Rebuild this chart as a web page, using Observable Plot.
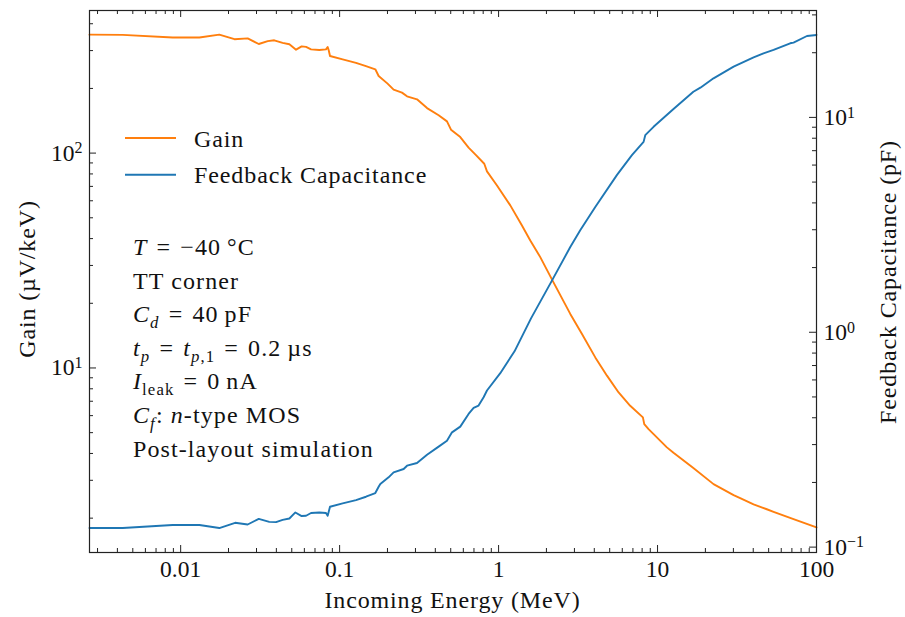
<!DOCTYPE html>
<html>
<head>
<meta charset="utf-8">
<script src="https://cdn.jsdelivr.net/npm/d3@7"></script>
<script src="https://cdn.jsdelivr.net/npm/@observablehq/plot@0.6"></script>
<style>
  html, body { margin: 0; padding: 0; background: #fff; }
</style>
</head>
<body>
<div id="chart"></div>
<script>
// ---------------- data ----------------
const gainE = [0.00267, 0.00432, 0.00891, 0.01312, 0.0175, 0.0218, 0.0264, 0.0310, 0.0353, 0.0388,
  0.0438, 0.0483, 0.0532, 0.0577, 0.0615, 0.0661, 0.0745, 0.0821, 0.0841, 0.0853,
  0.0870, 0.1045, 0.1268, 0.1465, 0.1677, 0.1760, 0.2003, 0.2186, 0.2468, 0.2655,
  0.3068, 0.3548, 0.4197, 0.4735, 0.5019, 0.5742, 0.6476, 0.7134, 0.8128, 0.8453,
  0.9771, 1.185, 1.403, 1.583, 1.829, 2.186, 2.825, 3.347, 4.058, 4.806,
  5.69, 6.73, 8.09, 8.25, 8.78, 11.45, 12.6, 16.8, 22.5, 30.1, 33.1, 40.2, 48.7, 53.7, 71.7, 100];
const gainV = [356, 355, 345, 345, 356, 339, 342, 322, 332, 335,
  326, 321, 303, 314, 312, 304, 302, 304, 312, 302,
  283, 273, 263, 254, 245.5, 228.5, 210.6, 197.4, 191.2, 183.8,
  178, 162, 150, 140.5, 128.5, 118.7, 106, 98.6, 89.2, 82.2,
  70.7, 57.1, 46.0, 39.2, 32.8, 25.5, 17.85, 14.4, 11.2, 9.21,
  7.69, 6.67, 5.89, 5.48, 5.19, 4.27, 4.03, 3.42, 2.88, 2.56, 2.48, 2.32, 2.20, 2.14, 1.98, 1.81];

const capE = [0.00267, 0.00432, 0.00891, 0.01312, 0.0175, 0.0220, 0.0264, 0.0310, 0.0361, 0.0398,
  0.0438, 0.0483, 0.0527, 0.0577, 0.0615, 0.0661, 0.0745, 0.0821, 0.0841, 0.0870,
  0.1045, 0.1268, 0.1465, 0.1677, 0.1760, 0.1803, 0.2033, 0.2186, 0.2528, 0.2655,
  0.3068, 0.3548, 0.4197, 0.4735, 0.5092, 0.5742, 0.6476, 0.6966, 0.7485, 0.8050,
  0.8453, 1.025, 1.26, 1.60, 2.17, 2.825, 3.263, 4.058, 5.56, 6.90,
  8.17, 8.37, 9.44, 12.6, 16.8, 18.6, 22.5, 30.1, 40.2, 46.4, 53.7, 68.3, 71.7, 87.1, 100];
const capV = [0.1227, 0.1227, 0.1267, 0.1267, 0.1227, 0.1298, 0.1274, 0.1354, 0.1311, 0.1307,
  0.1340, 0.1359, 0.1450, 0.1395, 0.1400, 0.1441, 0.1450, 0.1441, 0.1400, 0.1541,
  0.1597, 0.1656, 0.1716, 0.1785, 0.1910, 0.1967, 0.2112, 0.2227, 0.2310, 0.2393,
  0.2464, 0.2693, 0.2935, 0.3130, 0.3421, 0.3638, 0.4169, 0.4446, 0.4558, 0.4983,
  0.5355, 0.645, 0.815, 1.16, 1.744, 2.493, 2.984, 3.831, 5.40, 6.672,
  7.694, 8.268, 9.04, 10.95, 13.16, 13.75, 15.2, 17.22, 19.04, 19.88, 20.6, 22.13, 22.3, 23.93, 24.19];

const xDomain = [0.00267, 100];
const gainDomain = [1.384, 461];
const capDomain = [0.0944, 31.46];

const xTickValues = [0.01, 0.1, 1, 10, 100];
const xTickLabels = ["0.01", "0.1", "1", "10", "100"];
const gainTickValues = [10, 100];
const gainTickLabels = ["10^1", "10^2"];
const capTickValues = [0.1, 1, 10];
const capTickLabels = ["10^\u22121", "10^0", "10^1"];

const xLabel = "Incoming Energy (MeV)";
const gainLabel = "Gain (\u00b5V/keV)";
const capLabel = "Feedback Capacitance (pF)";

const seriesNames = ["Gain", "Feedback Capacitance"];
const seriesColors = ["#ff7f0e", "#1f77b4"];

// annotation lines: segments [text, style]  (i = italic, sub = subscript)
const EQ = "\u2004=\u2004";
const annotationLines = [
  [["T", "i"], [EQ + "\u221240\u2009\u00b0C", ""]],
  [["TT corner", ""]],
  [["C", "i"], ["d", "isub"], [EQ + "40\u2009pF", ""]],
  [["t", "i"], ["p", "isub"], [EQ, ""], ["t", "i"], ["p", "isub"], [",1", "sub"], [EQ + "0.2\u2009\u00b5s", ""]],
  [["I", "i"], ["leak", "sub"], [EQ + "0\u2009nA", ""]],
  [["C", "i"], ["f", "isub"], [": ", ""], ["n", "i"], ["-type MOS", ""]],
  [["Post-layout simulation", ""]]
];

// ---------------- layout ----------------
const W = 905, H = 617, mL = 89, mR = 89, mT = 10, mB = 65;
const fw = W - mL - mR, fh = H - mT - mB;
const FONT = "'Liberation Serif', 'DejaVu Serif', serif";
const FS = 24;
// map capacitance onto the gain (left) log scale
const K = gainDomain[0] / capDomain[0];

const gain = gainE.map((e, i) => ({E: e, V: gainV[i]}));
const cap = capE.map((e, i) => ({E: e, V: capV[i] * K}));

function minorTicks(lo, hi) {
  const out = [];
  for (let p = -4; p <= 3; p++) for (let m = 2; m <= 9; m++) {
    const v = +(m * Math.pow(10, p)).toPrecision(6);
    if (v > lo && v < hi) out.push(v);
  }
  return out;
}
const xMinor = minorTicks(xDomain[0], xDomain[1]);
const gainMinor = minorTicks(gainDomain[0], gainDomain[1]);
const capMinorK = minorTicks(capDomain[0], capDomain[1]).map(c => c * K);
const capMajorK = capTickValues.map(c => c * K);

const xLab = new Map(xTickValues.map((v, i) => [v, xTickLabels[i]]));
const gLab = new Map(gainTickValues.map((v, i) => [v, gainTickLabels[i]]));
const cLab = new Map(capMajorK.map((v, i) => [v, capTickLabels[i]]));

const tk = {stroke: "#222", strokeWidth: 1};
const majorLen = 7, minorLen = 4;

const plot = Plot.plot({
  width: W, height: H,
  marginLeft: mL, marginRight: mR, marginTop: mT, marginBottom: mB,
  x: {type: "log", domain: xDomain},
  y: {type: "log", domain: gainDomain},
  style: {fontFamily: FONT, fontSize: "23.5px", background: "#fff", color: "#111"},
  marks: [
    Plot.line(gain, {x: "E", y: "V", stroke: seriesColors[0], strokeWidth: 1.9}),
    Plot.line(cap, {x: "E", y: "V", stroke: seriesColors[1], strokeWidth: 1.9}),
    // inward ticks
    Plot.ruleX(xTickValues, {x: d => d, insetTop: fh - majorLen, ...tk}),
    Plot.ruleX(xTickValues, {x: d => d, insetBottom: fh - majorLen, ...tk}),
    Plot.ruleX(xMinor, {x: d => d, insetTop: fh - minorLen, ...tk}),
    Plot.ruleX(xMinor, {x: d => d, insetBottom: fh - minorLen, ...tk}),
    Plot.ruleY(gainTickValues, {y: d => d, insetRight: fw - majorLen, ...tk}),
    Plot.ruleY(gainMinor, {y: d => d, insetRight: fw - minorLen, ...tk}),
    Plot.ruleY(capMajorK, {y: d => d, insetLeft: fw - majorLen, ...tk}),
    Plot.ruleY(capMinorK, {y: d => d, insetLeft: fw - minorLen, ...tk}),
    Plot.frame({stroke: "#222", strokeWidth: 1.2}),
    Plot.axisX(xTickValues, {anchor: "bottom", tickSize: 0, tickPadding: 8, tickFormat: d => xLab.get(d), label: null}),
    Plot.axisY(gainTickValues, {anchor: "left", tickSize: 0, tickPadding: 7, tickFormat: d => gLab.get(d), label: null}),
    Plot.axisY(capMajorK, {anchor: "right", tickSize: 0, tickPadding: 7, tickFormat: d => cLab.get(d), label: null})
  ]
});

document.getElementById("chart").appendChild(plot);
const svg = d3.select(plot);

// superscript tick labels  "10^2" -> 10²
svg.selectAll("text").each(function () {
  const t = this.textContent;
  const m = /^10\^(.+)$/.exec(t);
  if (!m) return;
  const el = d3.select(this);
  el.text(null);
  el.append("tspan").text("10");
  el.append("tspan").attr("dy", "-0.45em").attr("font-size", "0.68em").text(m[1]);
});

// axis titles
const lab = svg.append("g").attr("font-family", FONT).attr("font-size", FS)
  .attr("fill", "#111").attr("letter-spacing", "0.85px").attr("text-anchor", "middle");
lab.append("text").attr("x", mL + fw / 2).attr("y", 608).text(xLabel);
lab.append("text").attr("transform", "translate(35,279) rotate(-90)").text(gainLabel);
lab.append("text").attr("transform", "translate(896,282) rotate(-90)").text(capLabel);

// legend
const leg = svg.append("g").attr("font-family", FONT).attr("font-size", FS).attr("fill", "#111")
  .attr("letter-spacing", "0.9px").attr("text-anchor", "start");
seriesNames.forEach((name, i) => {
  const y = 138 + i * 36.7;
  leg.append("line").attr("x1", 125).attr("x2", 176).attr("y1", y).attr("y2", y)
    .attr("stroke", seriesColors[i]).attr("stroke-width", 1.9);
  leg.append("text").attr("x", 194).attr("y", y + 8.5).text(name);
});

// annotation
const ann = svg.append("g").attr("font-family", FONT).attr("font-size", FS).attr("fill", "#111")
  .attr("letter-spacing", "1.1px").attr("text-anchor", "start");
annotationLines.forEach((segs, i) => {
  const t = ann.append("text").attr("x", 133).attr("y", 255 + i * 33.6);
  let off = 0;
  segs.forEach(([s, st]) => {
    const ts = t.append("tspan").text(s);
    const target = st.includes("sub") ? 6 : 0;
    if (target !== off) { ts.attr("dy", target - off); off = target; }
    if (st.includes("i")) ts.attr("font-style", "italic");
    if (st.includes("sub")) ts.attr("font-size", FS * 0.7);
  });
});
</script>
</body>
</html>
